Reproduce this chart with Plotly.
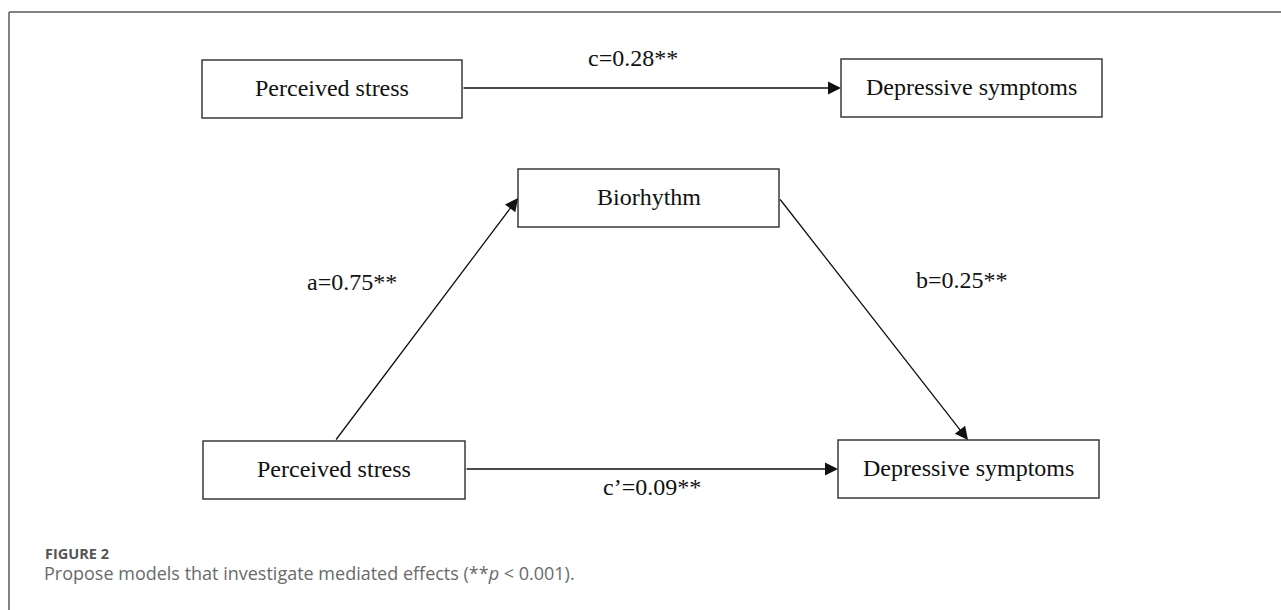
import plotly.graph_objects as go

# ---- data ----
node_labels = ["Perceived stress", "Depressive symptoms", "Biorhythm",
               "Perceived stress", "Depressive symptoms"]
path_names = ["c", "a", "b", "c’"]
path_coefs = [0.28, 0.75, 0.25, 0.09]
path_sig = ["**", "**", "**", "**"]
path_from = [0, 3, 2, 3]
path_to = [1, 2, 4, 4]
fig_label = "FIGURE 2"
caption = "Propose models that investigate mediated effects (**<i>p</i> < 0.001)."

# ---- layout geometry (pixels) ----
W, H = 1281, 610
boxes = [  # x0, y0, x1, y1
    (202, 60, 462, 118),
    (841, 59, 1102, 117),
    (518, 169, 779, 227),
    (203, 441, 465, 499),
    (838, 440, 1099, 498),
]
# arrow endpoints (start, tip)
arrow_pts = [
    ((462, 88), (841, 88)),
    ((335, 441), (518, 198)),
    ((779, 198), (968, 440)),
    ((465, 469), (838, 469)),
]
label_pos = [(633, 58), (352, 282), (962, 280), (652, 487)]

serif = "Liberation Serif, Times New Roman, serif"

fig = go.Figure()
fig.add_trace(go.Scatter(x=[0, W], y=[0, H], mode="markers",
                         marker=dict(opacity=0), hoverinfo="skip", showlegend=False))

shapes = []
annotations = []

# outer frame lines
shapes.append(dict(type="line", xref="x", yref="y", x0=9, y0=12, x1=W, y1=12,
                   line=dict(color="#5a5a5a", width=1.5)))
shapes.append(dict(type="line", xref="x", yref="y", x0=9, y0=12, x1=9, y1=H,
                   line=dict(color="#5a5a5a", width=1.5)))

for (x0, y0, x1, y1), lab in zip(boxes, node_labels):
    shapes.append(dict(type="rect", xref="x", yref="y", x0=x0, y0=y0, x1=x1, y1=y1,
                       line=dict(color="#3a3a3a", width=1.5), fillcolor="white"))
    annotations.append(dict(x=(x0 + x1) / 2, y=(y0 + y1) / 2 - 1, xref="x", yref="y",
                            text=lab, showarrow=False,
                            font=dict(family=serif, size=24, color="#111111")))

for ((sx, sy), (tx, ty)) in arrow_pts:
    annotations.append(dict(x=tx, y=ty, ax=sx, ay=sy, xref="x", yref="y",
                            axref="x", ayref="y", text="", showarrow=True,
                            arrowhead=2, arrowsize=2.0, arrowwidth=1.3,
                            arrowcolor="#111111", standoff=0, startstandoff=0))

for name, coef, sig, (lx, ly) in zip(path_names, path_coefs, path_sig, label_pos):
    annotations.append(dict(x=lx, y=ly, xref="x", yref="y",
                            text=f"{name}={coef:.2f}{sig}", showarrow=False,
                            font=dict(family=serif, size=24, color="#111111")))

annotations.append(dict(x=43, y=553, xref="x", yref="y", xanchor="left", yanchor="middle",
                        text=f"<b>{fig_label}</b>", showarrow=False,
                        font=dict(family="Open Sans, sans-serif", size=14.5, color="#555555")))
annotations.append(dict(x=42, y=573, xref="x", yref="y", xanchor="left", yanchor="middle",
                        text=caption, showarrow=False,
                        font=dict(family="Open Sans, sans-serif", size=18, color="#6a6a6a")))

fig.update_layout(
    width=W, height=H, margin=dict(l=0, r=0, t=0, b=0),
    paper_bgcolor="white", plot_bgcolor="white",
    xaxis=dict(range=[0, W], visible=False, fixedrange=True),
    yaxis=dict(range=[H, 0], visible=False, fixedrange=True),
    shapes=shapes, annotations=annotations, showlegend=False,
)

fig.write_html("out.html", config={"displayModeBar": False},
               post_script="document.body.style.margin='0';document.body.style.overflow='hidden';")
